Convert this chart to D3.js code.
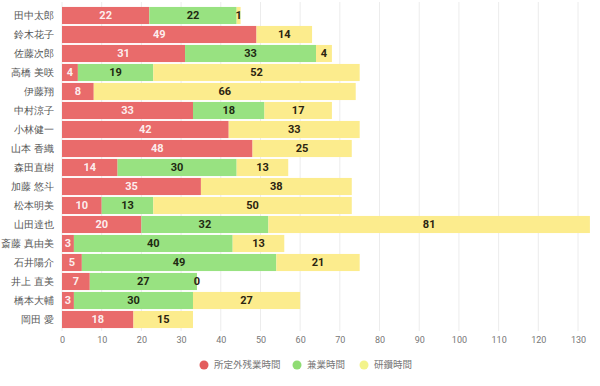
<!DOCTYPE html>
<html>
<head>
<meta charset="utf-8">
<script src="https://cdn.jsdelivr.net/npm/d3@7"></script>
<style>
  body { margin: 0; background: #fff; }
  svg { display: block; font-family: "Noto Sans CJK JP", "Noto Sans", sans-serif; }
</style>
</head>
<body>
<svg id="chart"></svg>
<script>
// names down the side
var names = ["田中太郎","鈴木花子","佐藤次郎","高橋 美咲","伊藤翔","中村涼子","小林健一","山本 香織",
  "森田直樹","加藤 悠斗","松本明美","山田達也","斎藤 真由美","石井陽介","井上 直美","橋本大輔","岡田 愛"];

// series (null = no bar, no label)
var overtime = [22,49,31,4,8,33,42,48,14,35,10,20,3,5,7,3,18];
var sidejob  = [22,null,33,19,null,18,null,null,30,null,13,32,40,49,27,30,null];
var training = [1,14,4,52,66,17,33,25,13,38,50,81,13,21,0,27,15];

var seriesNames = ["所定外残業時間","兼業時間","研鑽時間"];
var ticks = [0,10,20,30,40,50,60,70,80,90,100,110,120,130];

var width = 600, height = 386;
var colors = ["#e96b6b","#98e281","#fcec8d"];
var legendColors = ["#e35d5d","#8fdc73","#f3f38a"];
var labelColors = ["#ffffff","#1f2a12","#2b2410"];

var svg = d3.select('svg#chart')
  .attr('width', width)
  .attr('height', height);

var x = d3.scaleLinear().domain([0,130]).range([62,578]);
var y = d3.scaleBand().domain(names).range([6,329]).paddingInner(0.1).paddingOuter(0.05);

// vertical grid
svg.append('g')
  .selectAll('line')
  .data(ticks)
  .enter().append('line')
    .attr('x1', function(d){ return x(d); })
    .attr('x2', function(d){ return x(d); })
    .attr('y1', 2)
    .attr('y2', 331)
    .attr('stroke', '#ececec')
    .attr('stroke-width', 1);

// x axis labels
var xAxis = svg.append('g')
  .attr('transform', 'translate(0,331)')
  .call(d3.axisBottom(x).tickValues(ticks).tickSize(0).tickPadding(6));
xAxis.select('.domain').remove();
xAxis.selectAll('text')
  .style('font-family', 'Roboto, "Noto Sans", sans-serif')
  .style('font-size', '9px')
  .attr('fill', '#777');

// name labels
var yAxis = svg.append('g')
  .attr('transform', 'translate(62,0)')
  .call(d3.axisLeft(y).tickSize(0).tickPadding(8));
yAxis.select('.domain').remove();
yAxis.selectAll('text')
  .style('font-size', '10px')
  .attr('fill', '#555');

// stack the rows
var rows = names.map(function(n,i){
  return {name:n, v:[overtime[i], sidejob[i], training[i]]};
});

var segs = [];
rows.forEach(function(r){
  var start = 0;
  r.v.forEach(function(v,k){
    if (v === null) return;
    segs.push({name:r.name, k:k, x0:start, x1:start+v, value:v});
    start += v;
  });
});

var bars = svg.append('g').selectAll('g')
  .data(segs)
  .enter().append('g');

bars.append('rect')
  .attr('x', function(d){ return x(d.x0); })
  .attr('y', function(d){ return y(d.name); })
  .attr('width', function(d){ return x(d.x1) - x(d.x0); })
  .attr('height', y.bandwidth())
  .attr('fill', function(d){ return colors[d.k]; });

bars.append('text')
  .text(function(d){ return d.value; })
  .attr('x', function(d){ return (x(d.x0) + x(d.x1)) / 2; })
  .attr('y', function(d){ return y(d.name) + y.bandwidth()/2; })
  .attr('dy', '0.36em')
  .attr('text-anchor', 'middle')
  .style('font-family', 'Roboto, "Noto Sans", sans-serif')
  .style('font-size', '11px')
  .style('font-weight', 'bold')
  .attr('fill', function(d){ return labelColors[d.k]; })
  .attr('fill-opacity', function(d){ return d.k === 0 ? 0.9 : 1; });

// legend
var legendX = [204, 297, 364];
var legend = svg.append('g').selectAll('g')
  .data(seriesNames)
  .enter().append('g')
    .attr('transform', function(d,i){ return 'translate(' + legendX[i] + ',365)'; });

legend.append('circle')
  .attr('r', 4.5)
  .attr('fill', function(d,i){ return legendColors[i]; });

legend.append('text')
  .text(function(d){ return d; })
  .attr('x', 10)
  .attr('dy', '0.35em')
  .style('font-size', '9.5px')
  .attr('fill', '#777');
</script>
</body>
</html>
